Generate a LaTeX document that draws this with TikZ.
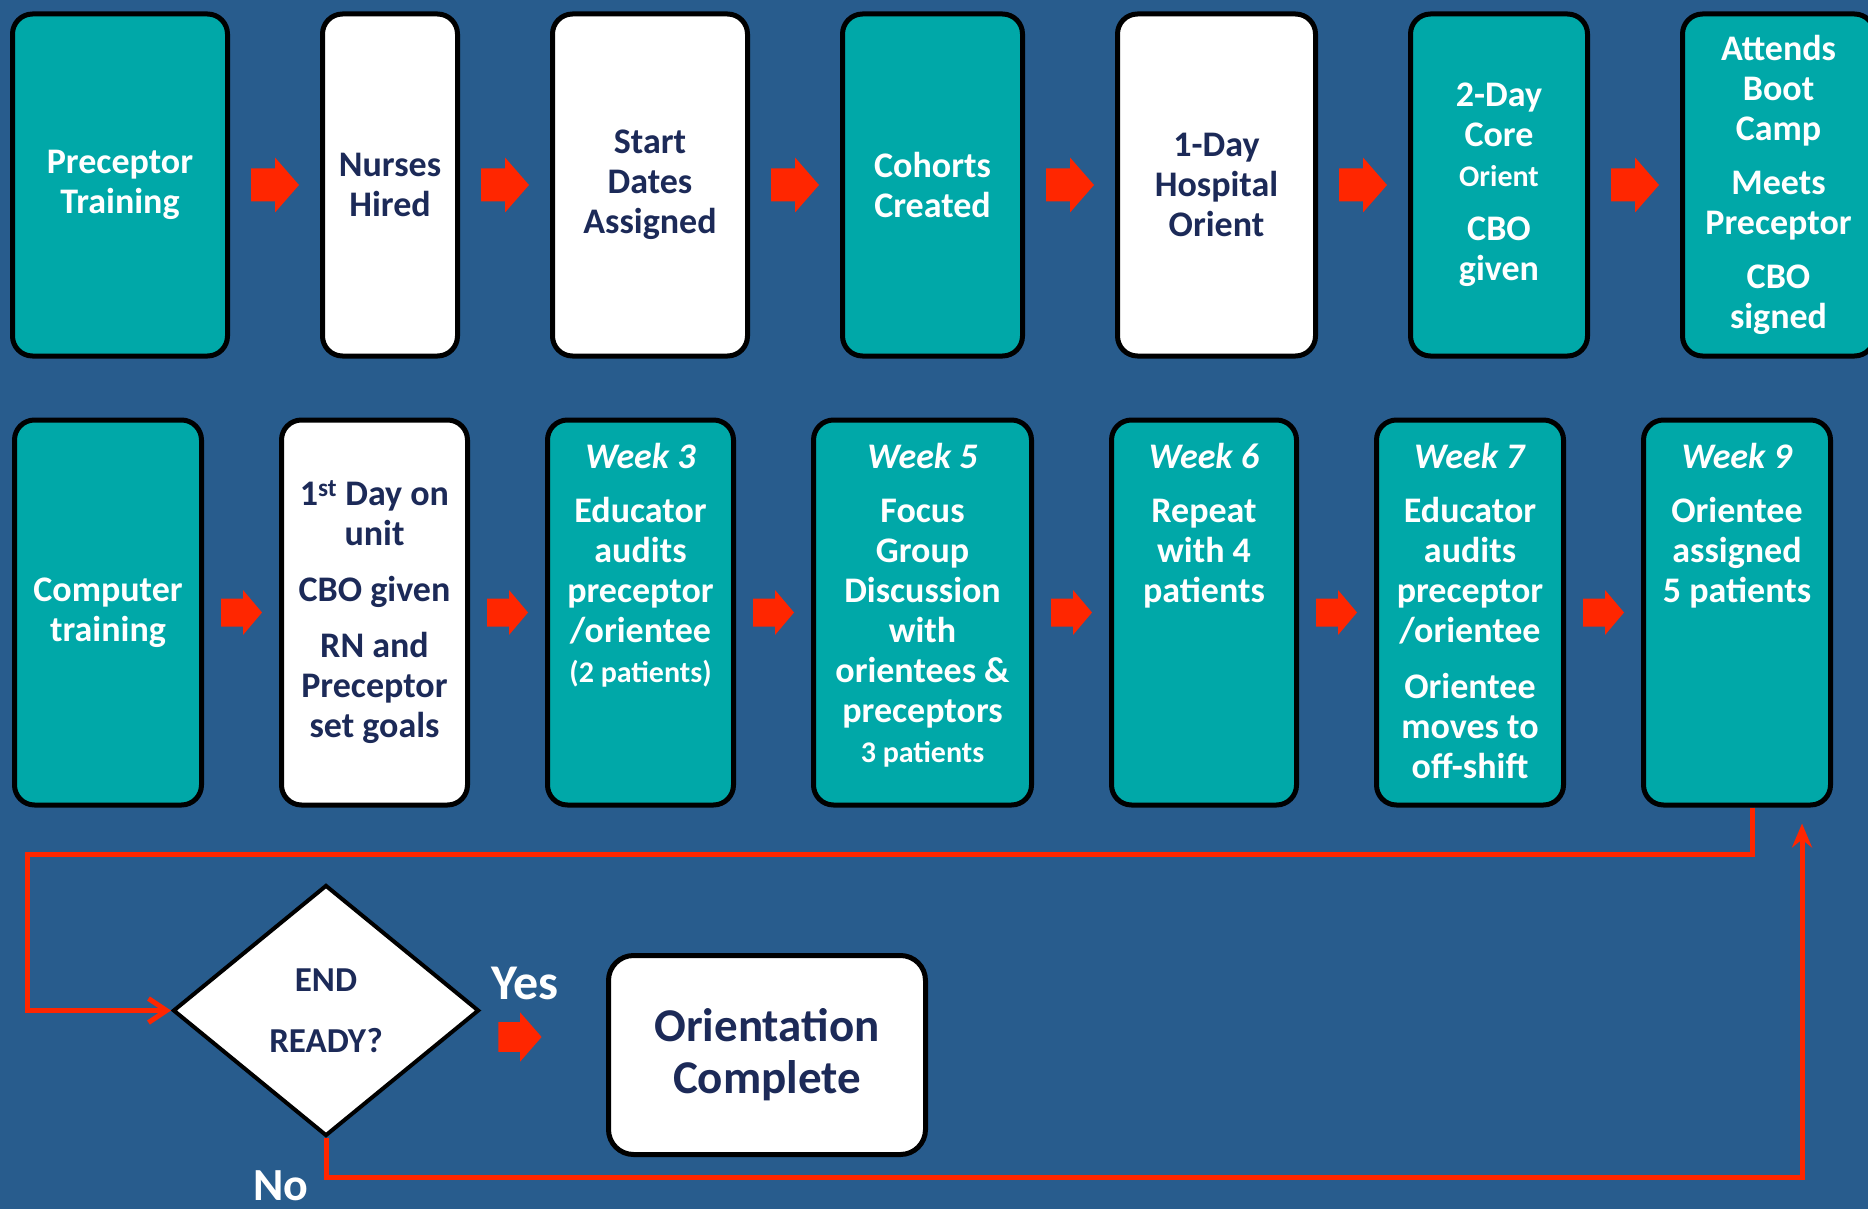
\documentclass[tikz,border=0pt]{standalone}
\usepackage{fontspec}
\setmainfont{Carlito}
\usepackage[HTML]{xcolor}
\usepackage{tikz}
\usetikzlibrary{positioning, calc, shapes.geometric, arrows.meta}

\definecolor{bgblue}{HTML}{285C8D}
\definecolor{tealbox}{HTML}{00A8A8}
\definecolor{navytxt}{HTML}{1C2A58}
\definecolor{flowred}{HTML}{FF2600}

\newcommand{\boxfont}{\bfseries\fontsize{36}{40}\selectfont}
\newcommand{\smallfont}{\fontsize{30}{36}\selectfont}
\newcommand{\weektop}[2][175pt]{\parbox[c][338pt][t]{#1}{\centering #2}}

\begin{document}
\begin{tikzpicture}[x=1pt, y=-1pt,
  card/.style={draw=black, line width=5pt, rounded corners=20pt, inner sep=0pt, font=\boxfont},
  tealcard/.style={card, fill=tealbox, text=white, align=center},
  whitecard/.style={card, fill=white, text=navytxt, align=center},
  weekcard/.style={card, fill=tealbox, text=white},
  toprow/.style={minimum height=342pt},
  botrow/.style={minimum height=385pt},
  loopline/.style={draw=flowred, line width=5pt},
  bigarrow/.pic={\fill[flowred] (-24,-16.5) -- (0,-16.5) -- (0,-27.5) -- (24,0) -- (0,27.5) -- (0,16.5) -- (-24,16.5) -- cycle;},
  smallarrow/.pic={\fill[flowred] (-20.5,-14) -- (1.5,-14) -- (1.5,-22.5) -- (20.5,0) -- (1.5,22.5) -- (1.5,14) -- (-20.5,14) -- cycle;}
]
\useasboundingbox (0,0) rectangle (1868,1209);
\clip (0,0) rectangle (1868,1209);
\fill[bgblue] (0,0) rectangle (1868,1209);

% first row: before the unit
\node[tealcard, toprow, minimum width=215pt] (t1) at (120,185) {Preceptor\\Training};
\node[whitecard, toprow, minimum width=135pt, right=90pt of t1] (t2) {Nurses\\Hired};
\node[whitecard, toprow, minimum width=195pt, right=90pt of t2] (t3) {Start\\Dates\\Assigned};
\node[tealcard, toprow, minimum width=180pt, right=90pt of t3] (t4) {Cohorts\\Created};
\node[whitecard, toprow, minimum width=198pt, right=90pt of t4] (t5) {1-Day\\Hospital\\Orient};
\node[tealcard, toprow, minimum width=177pt, right=90pt of t5] (t6) {2-Day\\Core\\{\smallfont Orient}\\[14pt]CBO\\given};
\node[tealcard, toprow, minimum width=192pt, right=90pt of t6] (t7) {Attends\\Boot\\Camp\\[14pt]Meets\\Preceptor\\[14pt]CBO\\signed};

% second row: weeks on the unit
\node[tealcard, botrow, minimum width=187pt] (b1) at (108,612.5) {Computer\\training};
\node[whitecard, botrow, minimum width=186pt, right=75pt of b1] (b2) {1\textsuperscript{st} Day on\\unit\\[16pt]CBO given\\[16pt]RN and\\Preceptor\\set goals};
\node[weekcard, botrow, minimum width=186pt, right=75pt of b2] (b3) {\weektop{\textit{Week 3}\\[14pt]Educator\\audits\\preceptor\\/orientee\\{\smallfont (2 patients)}}};
\node[weekcard, botrow, minimum width=218pt, right=75pt of b3] (b4) {\weektop[210pt]{\textit{Week 5}\\[14pt]Focus\\Group\\Discussion\\with\\orientees \&\\preceptors\\{\smallfont 3 patients}}};
\node[weekcard, botrow, minimum width=185pt, right=75pt of b4] (b5) {\weektop{\textit{Week 6}\\[14pt]Repeat\\with 4\\patients}};
\node[weekcard, botrow, minimum width=187pt, right=75pt of b5] (b6) {\weektop{\textit{Week 7}\\[14pt]Educator\\audits\\preceptor\\/orientee\\[16pt]Orientee\\moves to\\off-shift}};
\node[weekcard, botrow, minimum width=187pt, right=75pt of b6] (b7) {\weektop{\textit{Week 9}\\[14pt]Orientee\\assigned\\5 patients}};

% block arrows between the cards
\foreach \a/\b in {t1/t2,t2/t3,t3/t4,t4/t5,t5/t6,t6/t7}
  \pic at ($(\a.east)!.5!(\b.west)$) {bigarrow};
\foreach \a/\b in {b1/b2,b2/b3,b3/b4,b4/b5,b5/b6,b6/b7}
  \pic at ($(\a.east)!.5!(\b.west)$) {smallarrow};

% decision
\node[shape=diamond, draw=black, line width=4pt, fill=white, text=navytxt, inner sep=0pt,
  minimum width=306pt, minimum height=251pt, align=center,
  font=\bfseries\fontsize{35}{40}\selectfont] (dia) at (326,1010.5) {END\\[21pt]READY?};
\node[whitecard, rounded corners=25pt, minimum width=317pt, minimum height=199pt,
  font=\bfseries\fontsize{47}{52}\selectfont] (done) at (767,1055) {Orientation\\Complete};
\pic[scale=0.9] at (520,1037) {bigarrow};
\node[text=white, font=\bfseries\fontsize{50}{50}\selectfont] (yes) at (525,983) {Yes};
\node[text=white, font=\bfseries\fontsize{46}{46}\selectfont] (no) at (281,1186) {No};

% red feedback loop
\coordinate (loopL) at (27,854);
\draw[loopline, -{Straight Barb[length=18pt,width=24pt]}] ([xshift=15pt]b7.south) |- (loopL) |- (dia.west);
\coordinate (noR) at (1802,1177);
\coordinate (w9gap) at ([yshift=-16pt]b7.south);
\draw[loopline, -{Stealth[length=24pt,width=20pt,inset=8pt]}] (dia.south) |- (noR) -- (noR |- w9gap);
\end{tikzpicture}
\end{document}
